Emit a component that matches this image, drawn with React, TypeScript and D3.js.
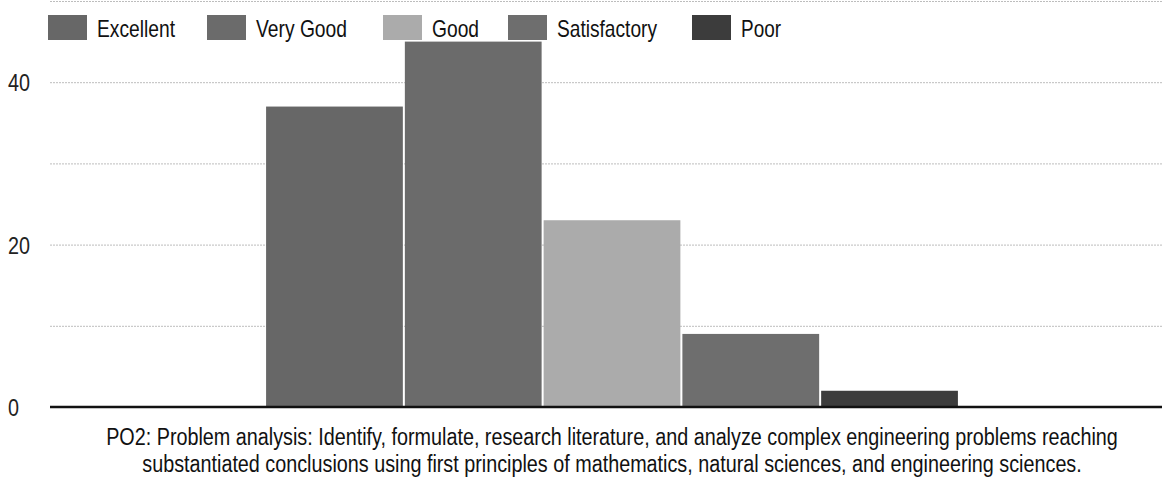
import React, { useEffect, useRef } from 'react';
import * as d3 from 'd3';

// values
const categories = ['PO2'];
const seriesNames = ['Excellent', 'Very Good', 'Good', 'Satisfactory', 'Poor'];
const seriesValues = [37, 45, 23, 9, 2];
const seriesColors = ['#676767', '#6b6b6b', '#ababab', '#6e6e6e', '#3c3c3c'];
const yTicks = [0, 20, 40];
const gridTicks = [10, 20, 30, 40, 50];
const titleLines = [
  'PO2: Problem analysis: Identify, formulate, research literature, and analyze complex engineering problems reaching',
  'substantiated conclusions using first principles of mathematics, natural sciences, and engineering sciences.',
];

const FONT = "'Liberation Sans', Arial, sans-serif";

const App = () => {
  const chartRef = useRef<SVGSVGElement | null>(null);

  useEffect(() => {
    const svg = d3.select(chartRef.current)
      .attr('width', 1162)
      .attr('height', 483);

    svg.selectAll('*').remove();

    const left = 50;
    const right = 1174;
    const y = d3.scaleLinear().domain([0, 50]).range([407, 1]);

    const x0 = d3.scaleBand().domain(categories).range([left, right]).paddingInner(0).paddingOuter(0.31);
    const x1 = d3.scaleBand().domain(seriesNames).range([0, x0.bandwidth()]).padding(0);

    svg.append('rect').attr('width', 1162).attr('height', 483).attr('fill', '#ffffff');

    // gridlines
    svg.append('g')
      .selectAll('line')
      .data(gridTicks)
      .enter().append('line')
      .attr('x1', left)
      .attr('x2', 1162)
      .attr('y1', d => y(d) + 0.5)
      .attr('y2', d => y(d) + 0.5)
      .attr('stroke', '#bdbdbd')
      .attr('stroke-width', 1)
      .attr('stroke-dasharray', '2,1');

    // y labels (scan is squeezed sideways, so pin the widths)
    svg.append('g')
      .selectAll('text')
      .data(yTicks)
      .enter().append('text')
      .attr('x', 8)
      .attr('y', d => y(d) + 9)
      .attr('font-family', FONT)
      .attr('font-size', 23)
      .attr('fill', '#222')
      .attr('textLength', d => String(d).length * 11)
      .attr('lengthAdjust', 'spacingAndGlyphs')
      .text(d => d);

    // bars
    const rows = seriesNames.map((name, i) => ({ name, value: seriesValues[i], color: seriesColors[i] }));
    const group = svg.append('g').attr('transform', `translate(${x0(categories[0])},0)`);
    group.selectAll('.bar')
      .data(rows)
      .enter().append('rect')
      .attr('class', 'bar')
      .attr('x', d => (x1(d.name) as number) + 1)
      .attr('y', d => y(d.value))
      .attr('width', x1.bandwidth() - 2)
      .attr('height', d => y(0) - y(d.value))
      .attr('fill', d => d.color);

    // baseline
    svg.append('line')
      .attr('x1', left)
      .attr('x2', 1162)
      .attr('y1', y(0))
      .attr('y2', y(0))
      .attr('stroke', '#111')
      .attr('stroke-width', 2.5);

    // legend
    const legendX = [48, 207, 383, 508, 692];
    const legendW = [78, 91, 47, 100, 40];
    const legend = svg.append('g')
      .selectAll('g')
      .data(rows)
      .enter().append('g')
      .attr('transform', (d, i) => `translate(${legendX[i]},15)`);
    legend.append('rect')
      .attr('width', 39)
      .attr('height', 25)
      .attr('fill', d => d.color);
    legend.append('text')
      .attr('x', 49)
      .attr('y', 22)
      .attr('font-family', FONT)
      .attr('font-size', 24)
      .attr('fill', '#111')
      .attr('textLength', (d, i) => legendW[i])
      .attr('lengthAdjust', 'spacingAndGlyphs')
      .text(d => d.name);

    // title under the axis, squeezed sideways like the scan
    svg.append('g')
      .selectAll('text')
      .data(titleLines)
      .enter().append('text')
      .attr('transform', (d, i) => `translate(${(left + right) / 2},${445 + i * 27}) scale(0.86,1)`)
      .attr('text-anchor', 'middle')
      .attr('font-family', FONT)
      .attr('font-size', 23)
      .attr('fill', '#111')
      .text(d => d);
  }, []);

  return (
    <svg ref={chartRef} style={{ position: 'absolute', left: 0, top: 0 }}></svg>
  );
};

export default App;
